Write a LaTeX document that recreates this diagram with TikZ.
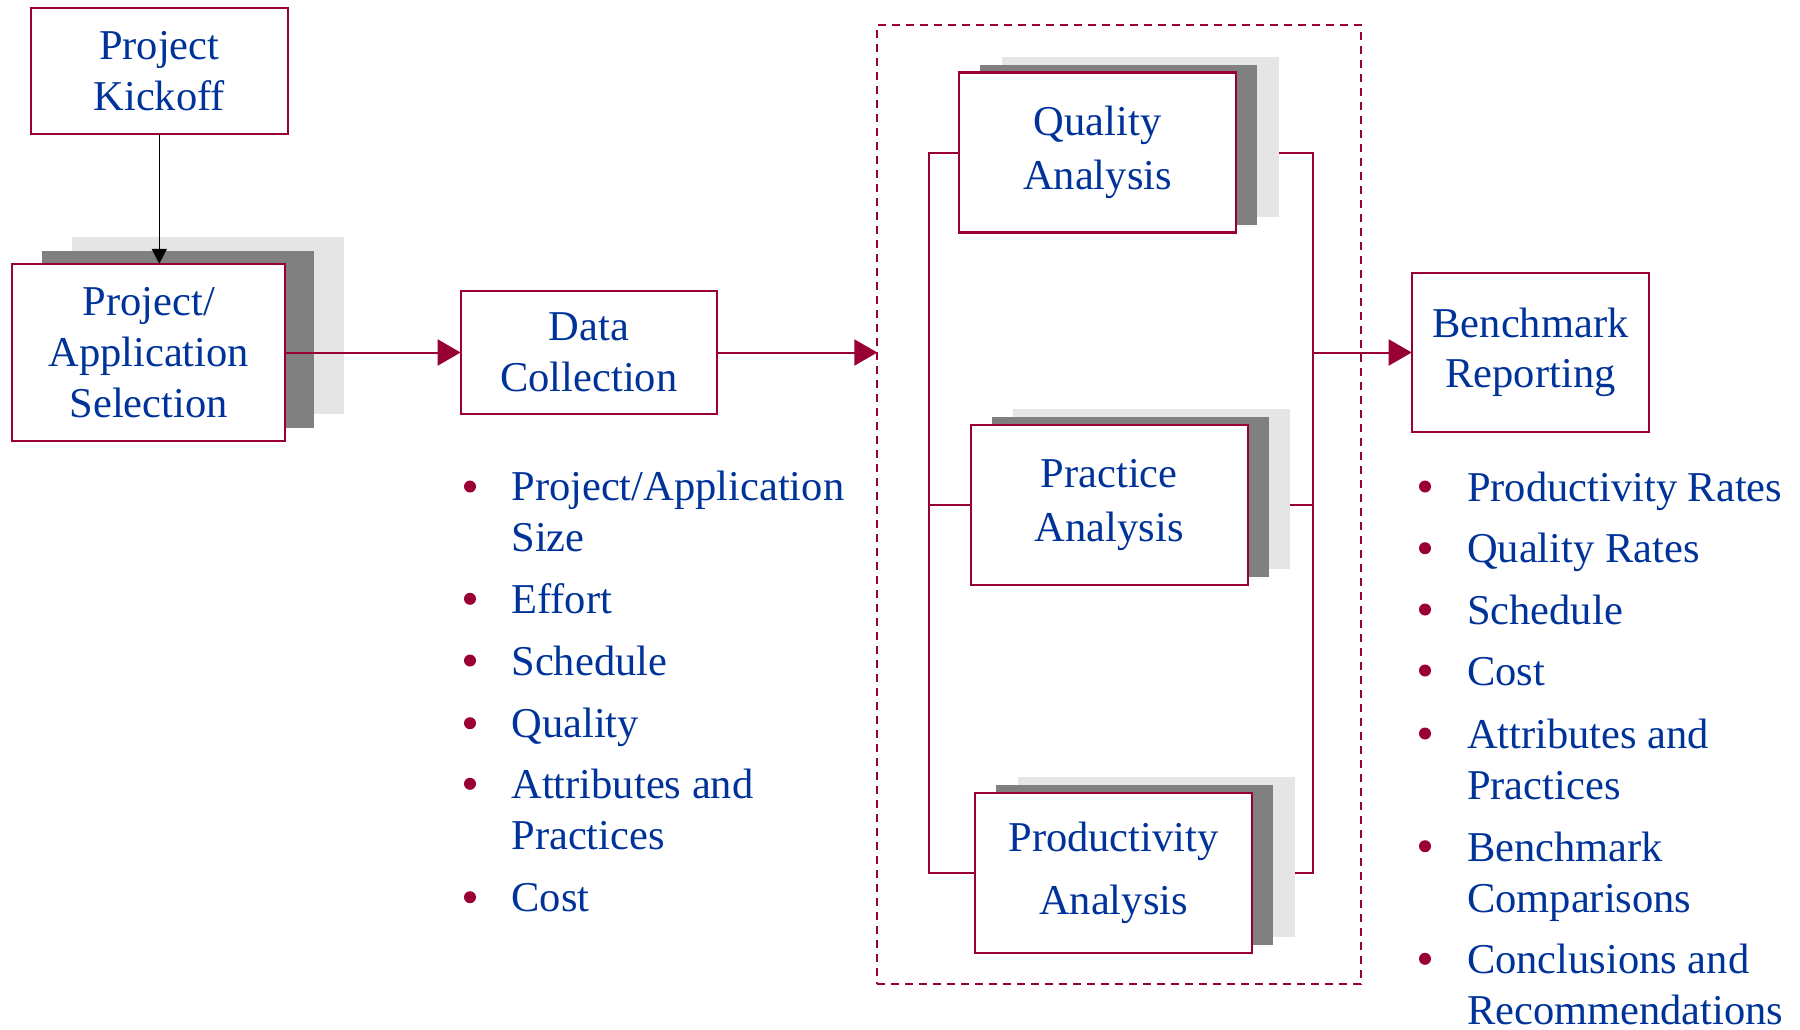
\documentclass[tikz,border=0pt]{standalone}
\usepackage{fontspec}
\setmainfont{Liberation Serif}
\usetikzlibrary{arrows.meta,calc}
\definecolor{crim}{HTML}{990033}
\definecolor{txtblue}{HTML}{003399}
\definecolor{shdark}{HTML}{808080}
\definecolor{shlight}{HTML}{E5E5E5}
\begin{document}
\begin{tikzpicture}[x=0.5pt,y=-0.5pt,
  box/.style={draw=crim, line width=1.1pt, fill=white, inner sep=0pt, outer sep=0pt, align=center, text=txtblue, font=\fontsize{21.25}{25.5}\selectfont},
  shd/.style={fill=shdark, inner sep=0pt, outer sep=0pt},
  shl/.style={fill=shlight, inner sep=0pt, outer sep=0pt},
  szsel/.style={minimum width=136.35pt, minimum height=88.7pt},
  szana/.style={minimum width=138.5pt, minimum height=80pt},
  conn/.style={draw=crim, line width=1pt},
  arr/.style={conn, -{Triangle[length=11.5pt,width=13pt]}},
  listitem/.style={anchor=base west, align=left, inner sep=0pt, text=txtblue, font=\fontsize{21.25}{25.5}\selectfont},
  bul/.style={circle, fill=crim, inner sep=0pt, minimum size=6pt},
  ]
\useasboundingbox (0,0) rectangle (1800,1029);

% Project kickoff
\node[box, minimum width=128.35pt, minimum height=63pt] (kick) at (159.3,71.3) {Project\\Kickoff};

% Selection with stacked shadows
\node[shl, szsel] (selL) at (208,325.5) {};
\node[shd, szsel] (selD) at (178,339.5) {};
\node[box, szsel] (sel) at (148.7,352.5) {Project/\\Application\\Selection};

% Data collection
\node[box, minimum width=128.15pt, minimum height=61.65pt] (data) at (588.8,352.5) {Data\\Collection};

% Dashed group
\node[draw=crim, line width=1pt, dash pattern=on 4pt off 3pt, inner sep=0pt, outer sep=0pt,
      minimum width=241.85pt, minimum height=479.65pt] (grp) at (1119.2,504.7) {};

% Quality analysis
\node[shl, szana] (qualL) at (1140.5,137) {};
\node[shd, szana] (qualD) at (1118.5,144.5) {};
\node[box, szana, font=\fontsize{21.25}{27}\selectfont] (qual) at (1097.5,152.5) {Quality\\Analysis};

% Practice analysis
\node[shl, szana] (pracL) at (1151.5,489) {};
\node[shd, szana] (pracD) at (1130.5,497) {};
\node[box, szana, font=\fontsize{21.25}{27}\selectfont] (prac) at (1109.2,504.7) {Practice\\Analysis};

% Productivity analysis
\node[shl, szana] (prodL) at (1156.5,857) {};
\node[shd, szana] (prodD) at (1134.5,865) {};
\node[box, szana, font=\fontsize{21.25}{31.5}\selectfont] (prod) at (1113.5,872.7) {Productivity\\Analysis};

% Benchmark reporting
\node[box, minimum width=118.8pt, minimum height=79.8pt, font=\fontsize{21.25}{25}\selectfont] (bench) at (1530.5,352.5) {Benchmark\\Reporting};

% bracket coordinates
\coordinate (lt) at (929,152.5);
\coordinate (lb) at (929,872.7);
\coordinate (rt) at (1313,152.5);
\coordinate (rb) at (1313,872.7);
\coordinate (rm) at (1313,352.5);

% connectors
\draw[line width=0.8pt, -{Triangle[length=7.5pt,width=7.5pt]}] (kick.south) -- (kick.south |- sel.north);
\draw[arr] (sel.east) -- (data.west);
\draw[arr] (data.east) -- (data.east -| grp.west);
\draw[conn] (qual.west) -- (lt) -- (lb) -- (prod.west);
\draw[conn] (prac.west) -- (prac.west -| lt);
\draw[conn] (qual.east -| qualL.east) -- (rt) -- (rb) -- (prod.east -| prodL.east);
\draw[conn] (prac.east -| pracL.east) -- (prac.east -| rt);
\draw[arr] (rm) -- (bench.west);

% Data collection list (base anchor = baseline of last line)
\node[bul] (db1) at (470,486.5) {};
\node[listitem] (dt1) at (511,551.5) {Project/Application\\Size};
\node[bul] (db2) at (470,598.8) {};
\node[listitem] (dt2) at (511,613.3) {Effort};
\node[bul] (db3) at (470,660.5) {};
\node[listitem] (dt3) at (511,675) {Schedule};
\node[bul] (db4) at (470,723.2) {};
\node[listitem] (dt4) at (511,737.7) {Quality};
\node[bul] (db5) at (470,783.8) {};
\node[listitem] (dt5) at (511,849.3) {Attributes and\\Practices};
\node[bul] (db6) at (470,897.2) {};
\node[listitem] (dt6) at (511,911.7) {Cost};

% Benchmark reporting list
\node[bul] (rb1) at (1425,486.5) {};
\node[listitem] (rt1) at (1466.7,501) {Productivity Rates};
\node[bul] (rb2) at (1425,548.2) {};
\node[listitem] (rt2) at (1466.7,562.7) {Quality Rates};
\node[bul] (rb3) at (1425,609.5) {};
\node[listitem] (rt3) at (1466.7,624) {Schedule};
\node[bul] (rb4) at (1425,670.5) {};
\node[listitem] (rt4) at (1466.7,685) {Cost};
\node[bul] (rb5) at (1425,733.5) {};
\node[listitem] (rt5) at (1466.7,799.3) {Attributes and\\Practices};
\node[bul] (rb6) at (1425,846.2) {};
\node[listitem] (rt6) at (1466.7,912.2) {Benchmark\\Comparisons};
\node[bul] (rb7) at (1425,958.8) {};
\node[listitem] (rt7) at (1466.7,1024.8) {Conclusions and\\Recommendations};
\end{tikzpicture}
\end{document}
